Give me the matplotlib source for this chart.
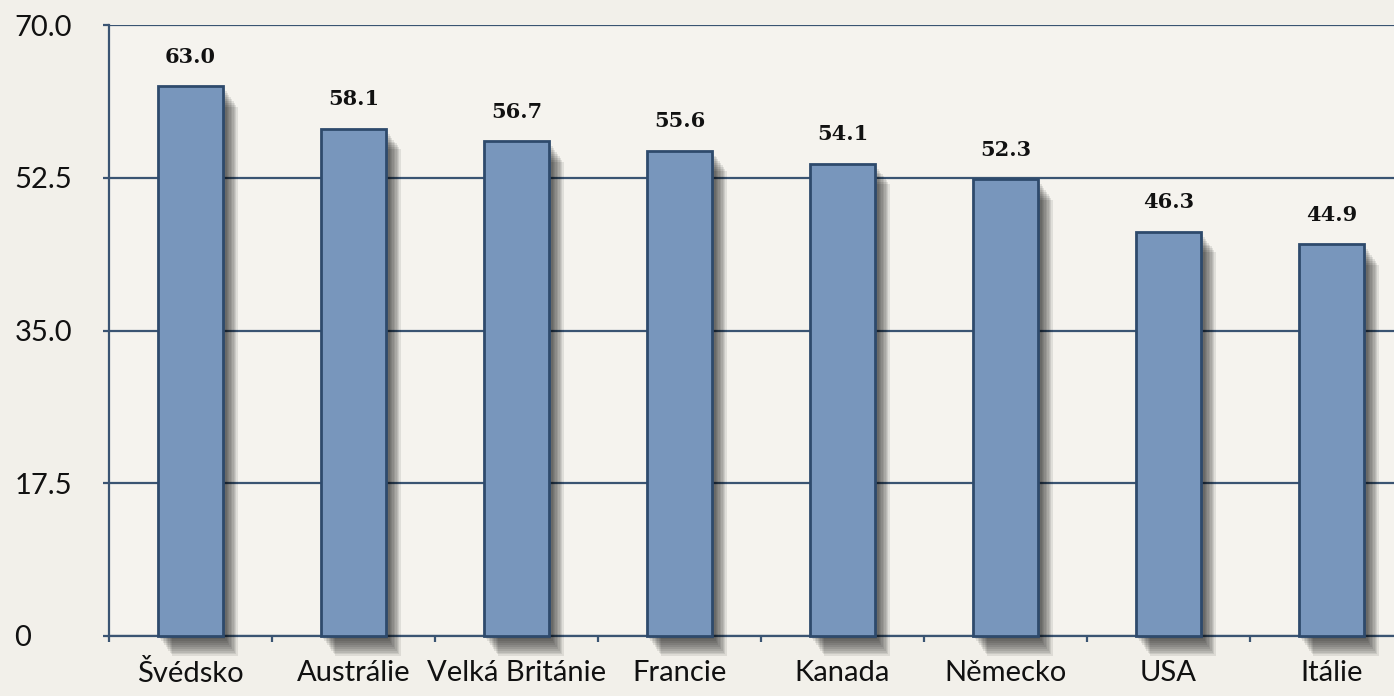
import numpy as np
import matplotlib.pyplot as plt
import matplotlib.patheffects as pe

countries = ['Švédsko', 'Austrálie', 'Velká Británie', 'Francie',
             'Kanada', 'Německo', 'USA', 'Itálie']
values = [63.0, 58.1, 56.7, 55.6, 54.1, 52.3, 46.3, 44.9]
yticks = [0, 17.5, 35.0, 52.5, 70.0]
ytick_labels = ['0', '17.5', '35.0', '52.5', '70.0']

bg = '#f2f0ea'
bar_color = '#7896bc'
edge_color = '#2e4a6c'
line_color = '#3a5472'

fig = plt.figure(figsize=(13.94, 6.96), dpi=100)
fig.patch.set_facecolor(bg)
ax = fig.add_axes([109 / 1394, 1 - 636 / 696, 1304 / 1394, 611 / 696])
ax.set_facecolor('#f5f3ee')

x = np.arange(len(countries))
# soft drop shadow built from several offset copies
shadow = []
for i in range(10):
    off = 1.5 + i * 1.0
    shadow.append(pe.SimplePatchShadow(offset=(off, -off * 1.4),
                                       shadow_rgbFace='black', alpha=0.085))
shadow.append(pe.Normal())

bars = ax.bar(x, values, width=0.4, color=bar_color, edgecolor=edge_color,
              linewidth=2, zorder=3, clip_on=False)
for b in bars:
    b.set_path_effects(shadow)

for xi, v in zip(x, values):
    ax.annotate(f'{v:.1f}', (xi, v), xytext=(0, 14), textcoords='offset points',
                ha='center', va='bottom', fontsize=15, fontweight='bold',
                family='DejaVu Serif', color='#111111', zorder=5)

ax.set_xlim(-0.5, len(countries) - 0.5)
ax.set_ylim(0, 70)
ax.set_yticks(yticks)
ax.set_yticklabels(ytick_labels)
ax.yaxis.grid(True, color=line_color, linewidth=1.6, zorder=1)
ax.set_axisbelow(True)

ax.set_xticks(x)
ax.set_xticklabels(countries)
ax.set_xticks(np.arange(len(countries)) - 0.5, minor=True)
ax.tick_params(axis='x', which='major', length=0, pad=17)
ax.tick_params(axis='x', which='minor', length=4, width=1.6, color=line_color,
               direction='out')
ax.tick_params(axis='y', length=4, width=1.6, color=line_color, pad=64)
for lbl in ax.get_xticklabels() + ax.get_yticklabels():
    lbl.set_fontsize(21)
    lbl.set_family(['Lato', 'DejaVu Sans'])
    lbl.set_color('#111111')
for lbl in ax.get_yticklabels():
    lbl.set_horizontalalignment('left')

for s in ['top', 'right']:
    ax.spines[s].set_visible(False)
ax.spines['left'].set_color(line_color)
ax.spines['left'].set_linewidth(1.6)
ax.spines['bottom'].set_color(line_color)
ax.spines['bottom'].set_linewidth(1.6)

fig.savefig('out.png', dpi=100, facecolor=bg)
